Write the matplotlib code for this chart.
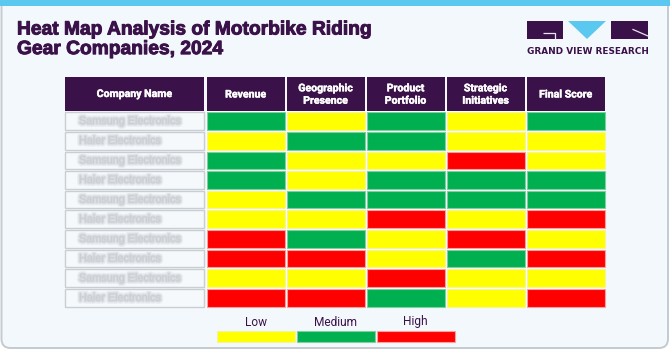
import matplotlib
matplotlib.use("Agg")
import matplotlib.pyplot as plt
from matplotlib.patches import Rectangle, FancyBboxPatch, Polygon
import matplotlib.patheffects as pe

# ---------------- data ----------------
title = "Heat Map Analysis of Motorbike Riding\nGear Companies, 2024"
companies = ["Samsung Electronics", "Haier Electronics", "Samsung Electronics", "Haier Electronics",
             "Samsung Electronics", "Haier Electronics", "Samsung Electronics", "Haier Electronics",
             "Samsung Electronics", "Haier Electronics"]
first_header = "Company Name"
metrics = ["Revenue", "Geographic\nPresence", "Product\nPortfolio", "Strategic\nInitiatives", "Final Score"]
revenue = ["Medium", "Low", "Medium", "Medium", "Low", "Low", "High", "High", "Low", "High"]
geographic = ["Low", "Medium", "Low", "Low", "Medium", "Low", "Medium", "High", "Low", "High"]
product = ["Medium", "Medium", "Low", "Medium", "Medium", "High", "Low", "Low", "High", "Medium"]
strategic = ["Low", "Low", "High", "Medium", "Medium", "Low", "High", "Medium", "Low", "Low"]
final_score = ["Medium", "Low", "Low", "Medium", "Medium", "High", "Low", "High", "Low", "High"]
levels = ["Low", "Medium", "High"]
brand = "GRAND VIEW RESEARCH"

# ---------------- styles ----------------
level_colors = {"Low": "#FFFF00", "Medium": "#00B050", "High": "#FF0000"}
level_edges = {"Low": "#F4F49A", "Medium": "#7FCFA0", "High": "#F8A0A0"}
purple = "#3A1249"
card_bg = "#F3F8FC"
blue = "#5BC8F0"
narrow = ["Liberation Sans Narrow", "Roboto", "DejaVu Sans"]

W, H = 670, 351
fig = plt.figure(figsize=(W / 100, H / 100), dpi=100)
fig.patch.set_facecolor("white")
ax = fig.add_axes([0, 0, 1, 1])
ax.set_xlim(0, W)
ax.set_ylim(H, 0)
ax.axis("off")

# card
ax.add_patch(FancyBboxPatch((1.5, -10), W - 3.5, H - 1.5 + 10 - 1.5,
                            boxstyle="round,pad=0,rounding_size=9",
                            facecolor=card_bg, edgecolor="#C5CAD0", lw=1.4, zorder=0))
ax.add_patch(Rectangle((0, 0), W, 5.5, facecolor=blue, edgecolor="none", zorder=1))

renderer = fig.canvas.get_renderer()


def fit_text(t, target_w):
    bb = t.get_window_extent(renderer)
    t.set_fontsize(t.get_fontsize() * target_w / bb.width)


# title
t = ax.text(17, 21.5, title, fontsize=13, fontweight="bold", color=purple,
            family=["Liberation Sans", "DejaVu Sans"], va="top", ha="left", linespacing=1.2,
            path_effects=[pe.withStroke(linewidth=0.7, foreground=purple)])
fit_text(t, 354)

# logo
ax.add_patch(Rectangle((527, 21), 36, 18, facecolor=purple, edgecolor="none"))
ax.plot([543, 555, 555], [32.5, 32.5, 39], color="#E8E4EE", lw=0.9, solid_capstyle="butt")
ax.add_patch(Polygon([(568, 21), (606, 21), (587, 39)], closed=True, facecolor=blue, edgecolor="none"))
ax.add_patch(Rectangle((611, 21), 37, 18, facecolor=purple, edgecolor="none"))
ax.plot([633, 648], [29.5, 36], color="#E8E4EE", lw=0.9)
bt = ax.text(587.5, 51.5, brand, fontsize=6, fontweight="bold", color=purple,
             family=["DejaVu Sans"], ha="center", va="center")
fit_text(bt, 121)

# ---------------- table ----------------
name_x0, name_x1 = 65, 203.5
metric_x0, metric_w = 205.5, 80.0
head_y0, head_y1 = 77, 111
row_y0, row_h = 111.2, 19.65
gap = 1.0

series = [revenue, geographic, product, strategic, final_score]

head_fx = [pe.withStroke(linewidth=0.3, foreground="white")]
# header
ax.add_patch(Rectangle((name_x0, head_y0), name_x1 - name_x0, head_y1 - head_y0,
                       facecolor=purple, edgecolor="none", zorder=2))
ax.text((name_x0 + name_x1) / 2, (head_y0 + head_y1) / 2, first_header, color="white",
        fontsize=7.6, fontweight="bold", family=narrow, ha="center", va="center", zorder=3,
        path_effects=head_fx)
for j, m in enumerate(metrics):
    x = metric_x0 + j * metric_w
    ax.add_patch(Rectangle((x + gap, head_y0), metric_w - 2 * gap, head_y1 - head_y0,
                           facecolor=purple, edgecolor="none", zorder=2))
    ax.text(x + metric_w / 2, (head_y0 + head_y1) / 2 + 0.5, m, color="white",
            fontsize=7.6, fontweight="bold", family=narrow, ha="center", va="center",
            linespacing=1.3, zorder=3, path_effects=head_fx)

# white backing behind colour cells
ax.add_patch(Rectangle((metric_x0, row_y0), metric_w * len(metrics), row_h * len(companies),
                       facecolor="white", edgecolor="none", zorder=1))

blur_fx = [pe.Stroke(linewidth=4.0, foreground="#EBEEF1"),
           pe.Stroke(linewidth=2.4, foreground="#E0E3E7"),
           pe.Stroke(linewidth=1.2, foreground="#D5D8DD"),
           pe.Normal()]

for i, comp in enumerate(companies):
    y = row_y0 + i * row_h
    ax.add_patch(Rectangle((name_x0, y + gap), name_x1 - name_x0, row_h - 2 * gap,
                           facecolor="#F5F9FC", edgecolor="#C9CED3", lw=1.0, zorder=2))
    ax.text(79, y + row_h / 2, comp, color="#CBCFD4", fontsize=7.8,
            family=["Liberation Sans", "DejaVu Sans"], ha="left", va="center", zorder=3,
            path_effects=blur_fx)
    for j, s in enumerate(series):
        lv = s[i]
        x = metric_x0 + j * metric_w
        ax.add_patch(Rectangle((x + gap, y + gap), metric_w - 2 * gap, row_h - 2 * gap,
                               facecolor=level_colors[lv], edgecolor=level_edges[lv],
                               lw=0.8, zorder=2))

# ---------------- legend ----------------
leg_x0, leg_w = 215.5, 80.0
leg_y0, leg_y1 = 331, 341.5
for k, lv in enumerate(levels):
    x = leg_x0 + k * leg_w
    ax.add_patch(Rectangle((x + gap, leg_y0), leg_w - 2 * gap, leg_y1 - leg_y0,
                           facecolor=level_colors[lv], edgecolor=level_edges[lv], lw=0.8, zorder=2))
    ax.text(x + leg_w / 2, 322, lv, color=purple, fontsize=8.6, family=narrow,
            ha="center", va="center", zorder=3)

fig.savefig("out.png", dpi=100, facecolor=fig.get_facecolor())
